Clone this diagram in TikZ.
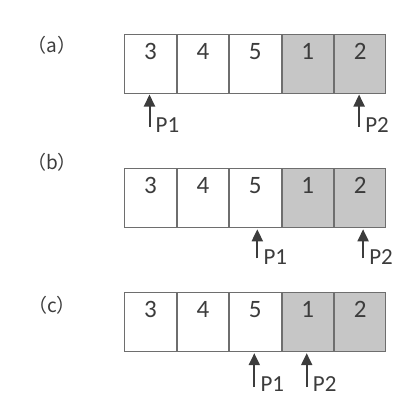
\documentclass[tikz,border=0pt]{standalone}
\usepackage{fontspec}
\setmainfont{Carlito}
\newfontfamily\cjk{Noto Sans CJK SC}
\usetikzlibrary{arrows.meta,calc}
\definecolor{txt}{HTML}{3C3C3C}
\definecolor{edge}{HTML}{6E6E6E}
\definecolor{shade}{HTML}{C6C6C6}
\begin{document}
\begin{tikzpicture}[x=1pt,y=-1pt,
  cell/.style={draw=edge,line width=1pt,fill=white,minimum width=51.4pt,inner sep=0pt,
    text height=25pt,text depth=34pt,text=txt,font=\fontsize{25}{28}\selectfont},
  dark/.style={cell,fill=shade},
  ptr/.style={draw=txt,line width=2pt,-{Triangle[length=12pt,width=11pt]},shorten >=1pt},
  plabel/.style={anchor=base west,text=txt,inner sep=0pt,font=\fontsize{23}{26}\selectfont},
  rowlabel/.style={text=txt,inner sep=0pt,font=\cjk\fontsize{19}{22}\selectfont}]
\useasboundingbox (0,0) rectangle (420,416);
% (a)
\node[rowlabel] (la) at (52,45) {（a）};
\node[cell] (a1) at (150.5,63.5) {3};
\node[cell,anchor=west] (a2) at (a1.east) {4};
\node[cell,anchor=west] (a3) at (a2.east) {5};
\node[dark,anchor=west] (a4) at (a3.east) {1};
\node[dark,anchor=west] (a5) at (a4.east) {2};
\coordinate (pa1) at ($(a1.south)+(-1,33)$);
\coordinate (pa2) at ($(a5.south)+(-1,33)$);
\draw[ptr] (pa1) -- (pa1 |- a1.south);
\draw[ptr] (pa2) -- (pa2 |- a5.south);
\node[plabel] (ta1) at ($(pa1)+(6,6)$) {P1};
\node[plabel] (ta2) at ($(pa2)+(6,6)$) {P2};
% (b)
\node[rowlabel] (lb) at (52,162) {（b）};
\node[cell] (b1) at (150.5,198.3) {3};
\node[cell,anchor=west] (b2) at (b1.east) {4};
\node[cell,anchor=west] (b3) at (b2.east) {5};
\node[dark,anchor=west] (b4) at (b3.east) {1};
\node[dark,anchor=west] (b5) at (b4.east) {2};
\coordinate (pb1) at ($(b3.south)+(2,30)$);
\coordinate (pb2) at ($(b5.south)+(3,30)$);
\draw[ptr] (pb1) -- (pb1 |- b3.south);
\draw[ptr] (pb2) -- (pb2 |- b5.south);
\node[plabel] (tb1) at ($(pb1)+(6,6)$) {P1};
\node[plabel] (tb2) at ($(pb2)+(6,6)$) {P2};
% (c)
\node[rowlabel] (lc) at (52,305) {（c）};
\node[cell] (c1) at (150.5,322.2) {3};
\node[cell,anchor=west] (c2) at (c1.east) {4};
\node[cell,anchor=west] (c3) at (c2.east) {5};
\node[dark,anchor=west] (c4) at (c3.east) {1};
\node[dark,anchor=west] (c5) at (c4.east) {2};
\coordinate (pc1) at ($(c3.south)+(-1,35)$);
\coordinate (pc2) at ($(c4.south)+(-1,35)$);
\draw[ptr] (pc1) -- (pc1 |- c3.south);
\draw[ptr] (pc2) -- (pc2 |- c4.south);
\node[plabel] (tc1) at ($(pc1)+(6,4)$) {P1};
\node[plabel] (tc2) at ($(pc2)+(6,4)$) {P2};
\end{tikzpicture}
\end{document}
